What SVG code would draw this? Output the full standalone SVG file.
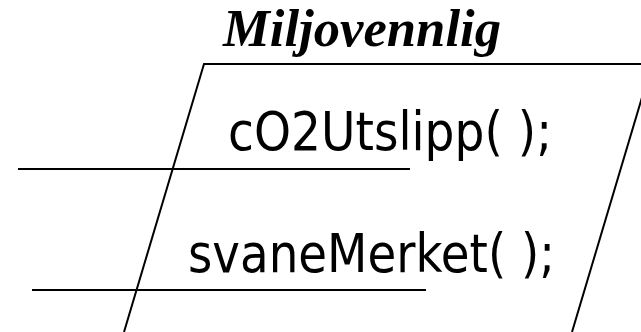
<svg xmlns="http://www.w3.org/2000/svg" width="641" height="332" viewBox="0 0 641 332">
<style>
.ln{stroke:#000;stroke-width:2;fill:none}
.title{font-family:"Liberation Serif",serif;font-weight:bold;font-style:italic;font-size:52px;fill:#000}
.op{font-family:"DejaVu Sans","Liberation Sans",sans-serif;font-size:54px;fill:#000}
</style>
<rect width="641" height="332" fill="#fff"/>
<g id="title"><text class="title" x="223" y="46" textLength="278" lengthAdjust="spacingAndGlyphs">Miljovennlig</text></g>
<g id="shape"><path class="ln" d="M124,332 L204,64 L652,64 L572,332"/></g>
<g id="op1"><text class="op" x="228" y="150" textLength="324" lengthAdjust="spacingAndGlyphs">cO2Utslipp( );</text></g>
<g id="op2"><text class="op" x="188" y="272" textLength="367" lengthAdjust="spacingAndGlyphs">svaneMerket( );</text></g>
<g id="connectors">
<line class="ln" x1="18" y1="169" x2="410" y2="169"/>
<line class="ln" x1="32" y1="290" x2="426" y2="290"/>
</g>
</svg>
